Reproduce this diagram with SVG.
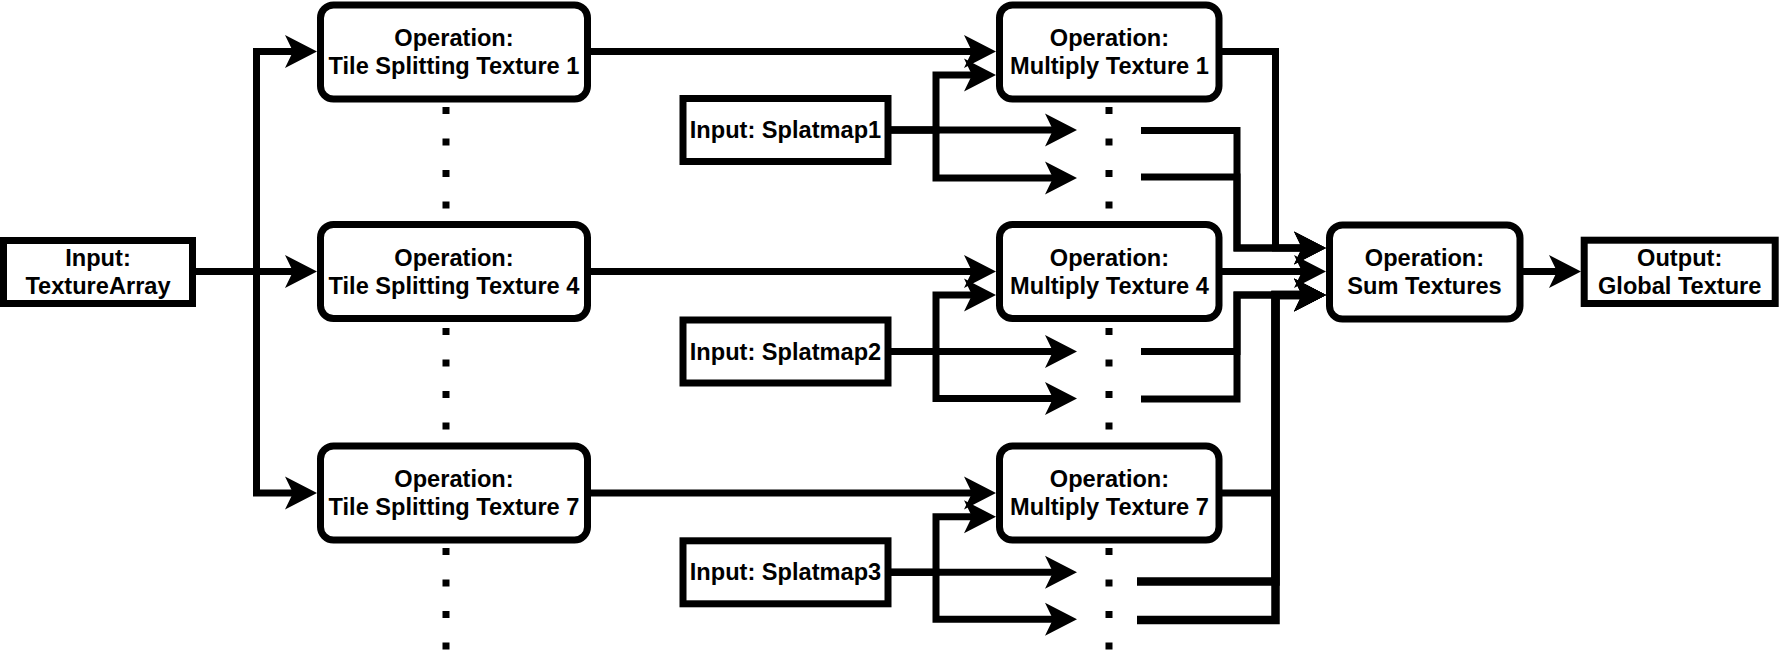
<svg xmlns="http://www.w3.org/2000/svg" width="1791" height="667" viewBox="0 0 1791 667">
<style>
.box{fill:#fff;stroke:#000;stroke-width:7}
.t{font-family:"Liberation Sans",Arial,sans-serif;font-size:23.6px;font-weight:bold;fill:#000;text-anchor:middle}
.e{fill:none;stroke:#000;stroke-width:7;stroke-linejoin:miter}
.e3{fill:none;stroke:#000;stroke-width:8.5;stroke-linejoin:miter}
.dots{stroke:#000;stroke-width:7;stroke-dasharray:7 24.5}
</style>
<defs>
<marker id="arr" viewBox="0 -17 32 34" markerWidth="32" markerHeight="34" markerUnits="userSpaceOnUse" refX="8" refY="0" orient="auto" overflow="visible">
<path d="M32,0 L0,-16.5 L8,0 L0,16.5 Z" fill="#000"/>
</marker>
</defs>
<rect width="1791" height="667" fill="#fff"/>

<g id="dotted">
<line class="dots" x1="446" y1="107" x2="446" y2="214"/>
<line class="dots" x1="446" y1="328" x2="446" y2="435"/>
<line class="dots" x1="446" y1="548" x2="446" y2="655"/>
<line class="dots" x1="1109" y1="107" x2="1109" y2="214"/>
<line class="dots" x1="1109" y1="328" x2="1109" y2="435"/>
<line class="dots" x1="1109" y1="548" x2="1109" y2="655"/>
</g>

<g id="connectors">
<path class="e" marker-end="url(#arr)" d="M192,271.5 H256.5 V51.5 H293"/>
<path class="e" marker-end="url(#arr)" d="M192,271.5 H293"/>
<path class="e" marker-end="url(#arr)" d="M192,271.5 H256.5 V493 H293"/>

<path class="e" marker-end="url(#arr)" d="M588,51.5 H972"/>
<path class="e" marker-end="url(#arr)" d="M588,271.5 H972"/>
<path class="e" marker-end="url(#arr)" d="M588,493 H972"/>

<path class="e" marker-end="url(#arr)" d="M888,130 H1053"/>
<path class="e" marker-end="url(#arr)" d="M888,130 H936 V75 H972"/>
<path class="e" marker-end="url(#arr)" d="M888,130 H936 V178 H1053"/>

<path class="e" marker-end="url(#arr)" d="M888,351.5 H1053"/>
<path class="e" marker-end="url(#arr)" d="M888,351.5 H936 V295 H972"/>
<path class="e" marker-end="url(#arr)" d="M888,351.5 H936 V398.5 H1053"/>

<path class="e" marker-end="url(#arr)" d="M888,572.3 H1053"/>
<path class="e" marker-end="url(#arr)" d="M888,572.3 H936 V516.7 H972"/>
<path class="e" marker-end="url(#arr)" d="M888,572.3 H936 V619.3 H1053"/>

<path class="e" marker-end="url(#arr)" d="M1219,51.5 H1275.5 V248 H1302"/>
<path class="e" marker-end="url(#arr)" d="M1141,130.5 H1237 V248 H1302"/>
<path class="e" marker-end="url(#arr)" d="M1141,177 H1237 V248 H1302"/>

<path class="e" marker-end="url(#arr)" d="M1219,271.5 H1302"/>

<path class="e" marker-end="url(#arr)" d="M1141,351.5 H1237 V295 H1302"/>
<path class="e" marker-end="url(#arr)" d="M1141,399 H1237 V295 H1302"/>

<path class="e" marker-end="url(#arr)" d="M1219,493 H1275.5 V295 H1302"/>
<path class="e3" marker-end="url(#arr)" d="M1137,581.5 H1275.5 V295 H1302"/>
<path class="e3" marker-end="url(#arr)" d="M1137,620 H1275.5 V295 H1302"/>

<path class="e" marker-end="url(#arr)" d="M1520,271.5 H1557"/>
</g>

<g id="input-texturearray">
<rect class="box" x="3.5" y="240.5" width="189" height="63"/>
<text class="t" x="98" y="265.5">Input:</text>
<text class="t" x="98" y="293.5">TextureArray</text>
</g>

<g id="tile1">
<rect class="box" x="320.5" y="5" width="267" height="94" rx="13"/>
<text class="t" x="454" y="46">Operation:</text>
<text class="t" x="454" y="74">Tile Splitting Texture 1</text>
</g>
<g id="tile4">
<rect class="box" x="320.5" y="224.5" width="267" height="94" rx="13"/>
<text class="t" x="454" y="265.5">Operation:</text>
<text class="t" x="454" y="293.5">Tile Splitting Texture 4</text>
</g>
<g id="tile7">
<rect class="box" x="320.5" y="446" width="267" height="94" rx="13"/>
<text class="t" x="454" y="487">Operation:</text>
<text class="t" x="454" y="515">Tile Splitting Texture 7</text>
</g>

<g id="splat1">
<rect class="box" x="683" y="98.5" width="205" height="63"/>
<text class="t" x="785.5" y="138">Input: Splatmap1</text>
</g>
<g id="splat2">
<rect class="box" x="683" y="320" width="205" height="63"/>
<text class="t" x="785.5" y="359.5">Input: Splatmap2</text>
</g>
<g id="splat3">
<rect class="box" x="683" y="540.8" width="205" height="63"/>
<text class="t" x="785.5" y="580.3">Input: Splatmap3</text>
</g>

<g id="mult1">
<rect class="box" x="999.5" y="5" width="219.5" height="94" rx="13"/>
<text class="t" x="1109.5" y="46">Operation:</text>
<text class="t" x="1109.5" y="74">Multiply Texture 1</text>
</g>
<g id="mult4">
<rect class="box" x="999.5" y="224.5" width="219.5" height="94" rx="13"/>
<text class="t" x="1109.5" y="265.5">Operation:</text>
<text class="t" x="1109.5" y="293.5">Multiply Texture 4</text>
</g>
<g id="mult7">
<rect class="box" x="999.5" y="446" width="219.5" height="94" rx="13"/>
<text class="t" x="1109.5" y="487">Operation:</text>
<text class="t" x="1109.5" y="515">Multiply Texture 7</text>
</g>

<g id="sum">
<rect class="box" x="1329.5" y="225" width="190.5" height="94" rx="13"/>
<text class="t" x="1424.5" y="266">Operation:</text>
<text class="t" x="1424.5" y="294">Sum Textures</text>
</g>

<g id="output">
<rect class="box" x="1584.2" y="240.2" width="191" height="63.3"/>
<text class="t" x="1679.7" y="265.5">Output:</text>
<text class="t" x="1679.7" y="293.5">Global Texture</text>
</g>
</svg>
